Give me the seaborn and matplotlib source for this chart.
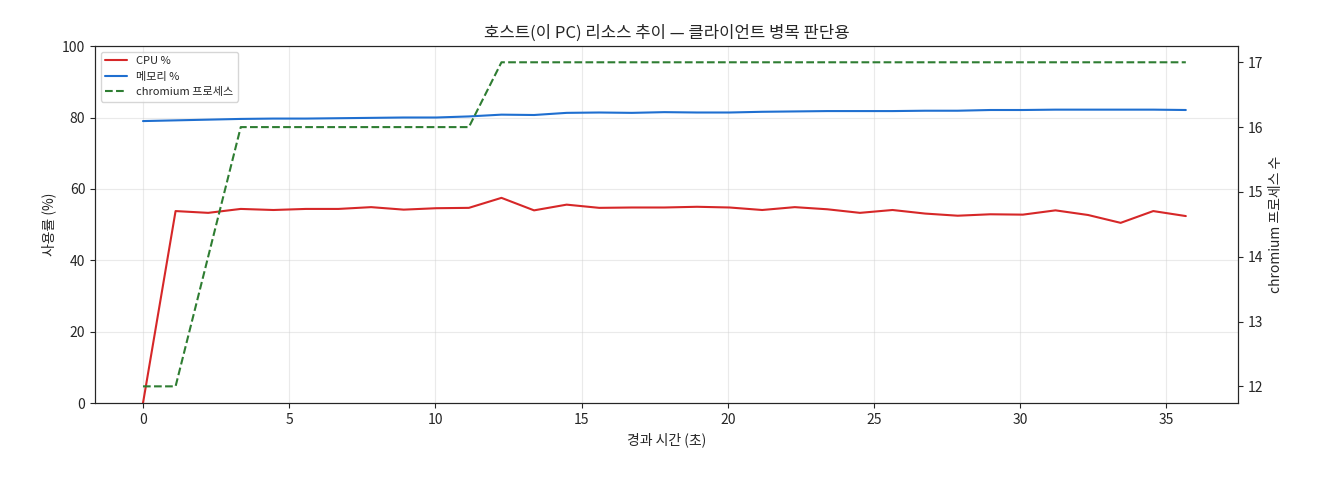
import matplotlib
matplotlib.use("Agg")
import matplotlib.pyplot as plt
import seaborn as sns
import numpy as np

sns.set_style("ticks")
plt.rcParams['font.family'] = ['Noto Sans CJK KR', 'DejaVu Sans']
plt.rcParams['axes.unicode_minus'] = False

n = 33
t = [i * 35.67 / 32 for i in range(n)]
cpu = [0, 53.8, 53.3, 54.4, 54.1, 54.4, 54.4, 54.9, 54.2, 54.6, 54.7, 57.5, 54.0, 55.6, 54.7, 54.8, 54.8,
       55.0, 54.8, 54.1, 54.9, 54.3, 53.3, 54.1, 53.1, 52.5, 52.9, 52.8, 54.0, 52.7, 50.5, 53.8, 52.4]
mem = [79.0, 79.2, 79.4, 79.6, 79.7, 79.7, 79.8, 79.9, 80.0, 80.0, 80.3, 80.8, 80.7, 81.3, 81.4, 81.3, 81.5,
       81.4, 81.4, 81.6, 81.7, 81.8, 81.8, 81.8, 81.9, 81.9, 82.1, 82.1, 82.2, 82.2, 82.2, 82.2, 82.1]
procs = [12, 12, 14] + [16] * 8 + [17] * 22

fig, ax = plt.subplots(figsize=(13.2, 4.8), dpi=100)
sns.lineplot(x=t, y=cpu, ax=ax, color="#d62728", lw=1.5, label="CPU %")
sns.lineplot(x=t, y=mem, ax=ax, color="#1f6fd0", lw=1.5, label="메모리 %")
ax.set_ylim(0, 100)
ax.set_xlim(-1.64, 37.46)
ax.set_xlabel("경과 시간 (초)")
ax.set_ylabel("사용률 (%)")
ax.grid(True, alpha=0.4)
ax.set_title("호스트(이 PC) 리소스 추이 — 클라이언트 병목 판단용")

ax2 = ax.twinx()
sns.lineplot(x=t, y=procs, ax=ax2, color="#2e7d32", lw=1.5, linestyle="--", label="chromium 프로세스")
ax2.set_ylim(11.74, 17.25)
ax2.set_ylabel("chromium 프로세스 수")
ax2.get_legend().remove()

h1, l1 = ax.get_legend_handles_labels()
h2, l2 = ax2.get_legend_handles_labels()
ax.legend(h1 + h2, l1 + l2, loc="upper left", fontsize=8)

fig.subplots_adjust(left=0.072, right=0.938, top=0.904, bottom=0.16)
fig.savefig("out.png")
